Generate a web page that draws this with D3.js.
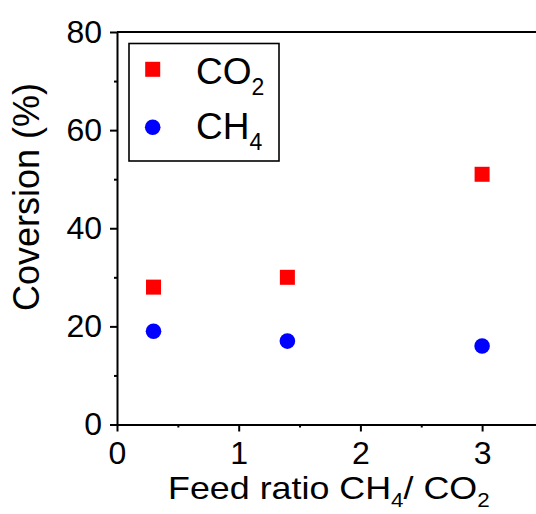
<!DOCTYPE html>
<html>
<head>
<meta charset="utf-8">
<script src="https://cdn.jsdelivr.net/npm/d3@7"></script>
<style>
  html, body { margin: 0; padding: 0; background: #fff; }
  svg { display: block; font-family: "Liberation Sans", Arial, sans-serif; }
  .axis path, .axis line { stroke: #000; stroke-width: 2; }
  .axis text { font-size: 32px; fill: #000; }
</style>
</head>
<body>
<svg id="chart" width="536" height="514"></svg>
<script>
/* data */
const feedRatio = [0.3, 1.4, 3.0];
const co2Conv = [28, 30, 51];
const ch4Conv = [19, 17, 16];
const xTicks = [0, 1, 2, 3];
const xMinor = [0.5, 1.5, 2.5];
const yTicks = [0, 20, 40, 60, 80];
const yMinor = [10, 30, 50, 70];

const svg = d3.select("#chart");
const plotLeft = 117, plotTop = 32, plotBottom = 424.5, unitX = 121.7;

const x = d3.scaleLinear().domain([0, 3.5]).range([plotLeft, plotLeft + 3.5 * unitX]);
const y = d3.scaleLinear().domain([0, 80]).range([plotBottom, plotTop]);

// minor ticks
svg.append("g").attr("class", "axis")
  .attr("transform", `translate(0,${plotBottom})`)
  .call(d3.axisBottom(x).tickValues(xMinor).tickSize(3).tickFormat(""))
  .select(".domain").remove();
svg.append("g").attr("class", "axis")
  .attr("transform", `translate(${plotLeft},0)`)
  .call(d3.axisLeft(y).tickValues(yMinor).tickSize(3).tickFormat(""))
  .select(".domain").remove();

// frame (top line)
svg.append("line")
  .attr("x1", plotLeft).attr("x2", x(3.5)).attr("y1", plotTop).attr("y2", plotTop)
  .attr("stroke", "#000").attr("stroke-width", 2);

// major axes
svg.append("g").attr("class", "axis")
  .attr("transform", `translate(0,${plotBottom})`)
  .call(d3.axisBottom(x).tickValues(xTicks).tickSize(7).tickPadding(10).tickSizeOuter(0).tickFormat(d3.format("d")));
svg.append("g").attr("class", "axis")
  .attr("transform", `translate(${plotLeft},0)`)
  .call(d3.axisLeft(y).tickValues(yTicks).tickSize(7).tickPadding(8).tickSizeOuter(0));

// axis titles
svg.append("text")
  .attr("transform", "translate(39,197) rotate(-90)")
  .attr("text-anchor", "middle")
  .attr("font-size", 36)
  .text("Coversion (%)");

const xt = svg.append("text")
  .attr("transform", "translate(168,499) scale(1.12,1)")
  .attr("font-size", 32);
xt.append("tspan").text("Feed ratio CH");
xt.append("tspan").attr("font-size", 20).attr("dy", 8).text("4");
xt.append("tspan").attr("dy", -8).text("/ CO");
xt.append("tspan").attr("font-size", 20).attr("dy", 8).text("2");

// points
const sq = 15;
svg.append("g").selectAll("rect")
  .data(feedRatio.map((d, i) => [d, co2Conv[i]]))
  .join("rect")
  .attr("x", d => x(d[0]) - sq / 2)
  .attr("y", d => y(d[1]) - sq / 2)
  .attr("width", sq).attr("height", sq)
  .attr("fill", "#ff0000");

svg.append("g").selectAll("circle")
  .data(feedRatio.map((d, i) => [d, ch4Conv[i]]))
  .join("circle")
  .attr("cx", d => x(d[0]))
  .attr("cy", d => y(d[1]))
  .attr("r", 7.8)
  .attr("fill", "#0000ff");

// legend
const lg = svg.append("g");
lg.append("rect")
  .attr("x", 129).attr("y", 43.5).attr("width", 150).attr("height", 117.5)
  .attr("fill", "none").attr("stroke", "#000").attr("stroke-width", 1.6);
lg.append("rect")
  .attr("x", 152.7 - sq / 2).attr("y", 69.3 - sq / 2)
  .attr("width", sq).attr("height", sq).attr("fill", "#ff0000");
lg.append("circle")
  .attr("cx", 152.7).attr("cy", 127.3).attr("r", 7.8).attr("fill", "#0000ff");

const t1 = lg.append("text").attr("x", 196).attr("y", 83.5).attr("font-size", 37);
t1.append("tspan").text("CO");
t1.append("tspan").attr("font-size", 23).attr("dy", 11).text("2");
const t2 = lg.append("text").attr("x", 196).attr("y", 138.5).attr("font-size", 37);
t2.append("tspan").text("CH");
t2.append("tspan").attr("font-size", 23).attr("dy", 11).text("4");
</script>
</body>
</html>
